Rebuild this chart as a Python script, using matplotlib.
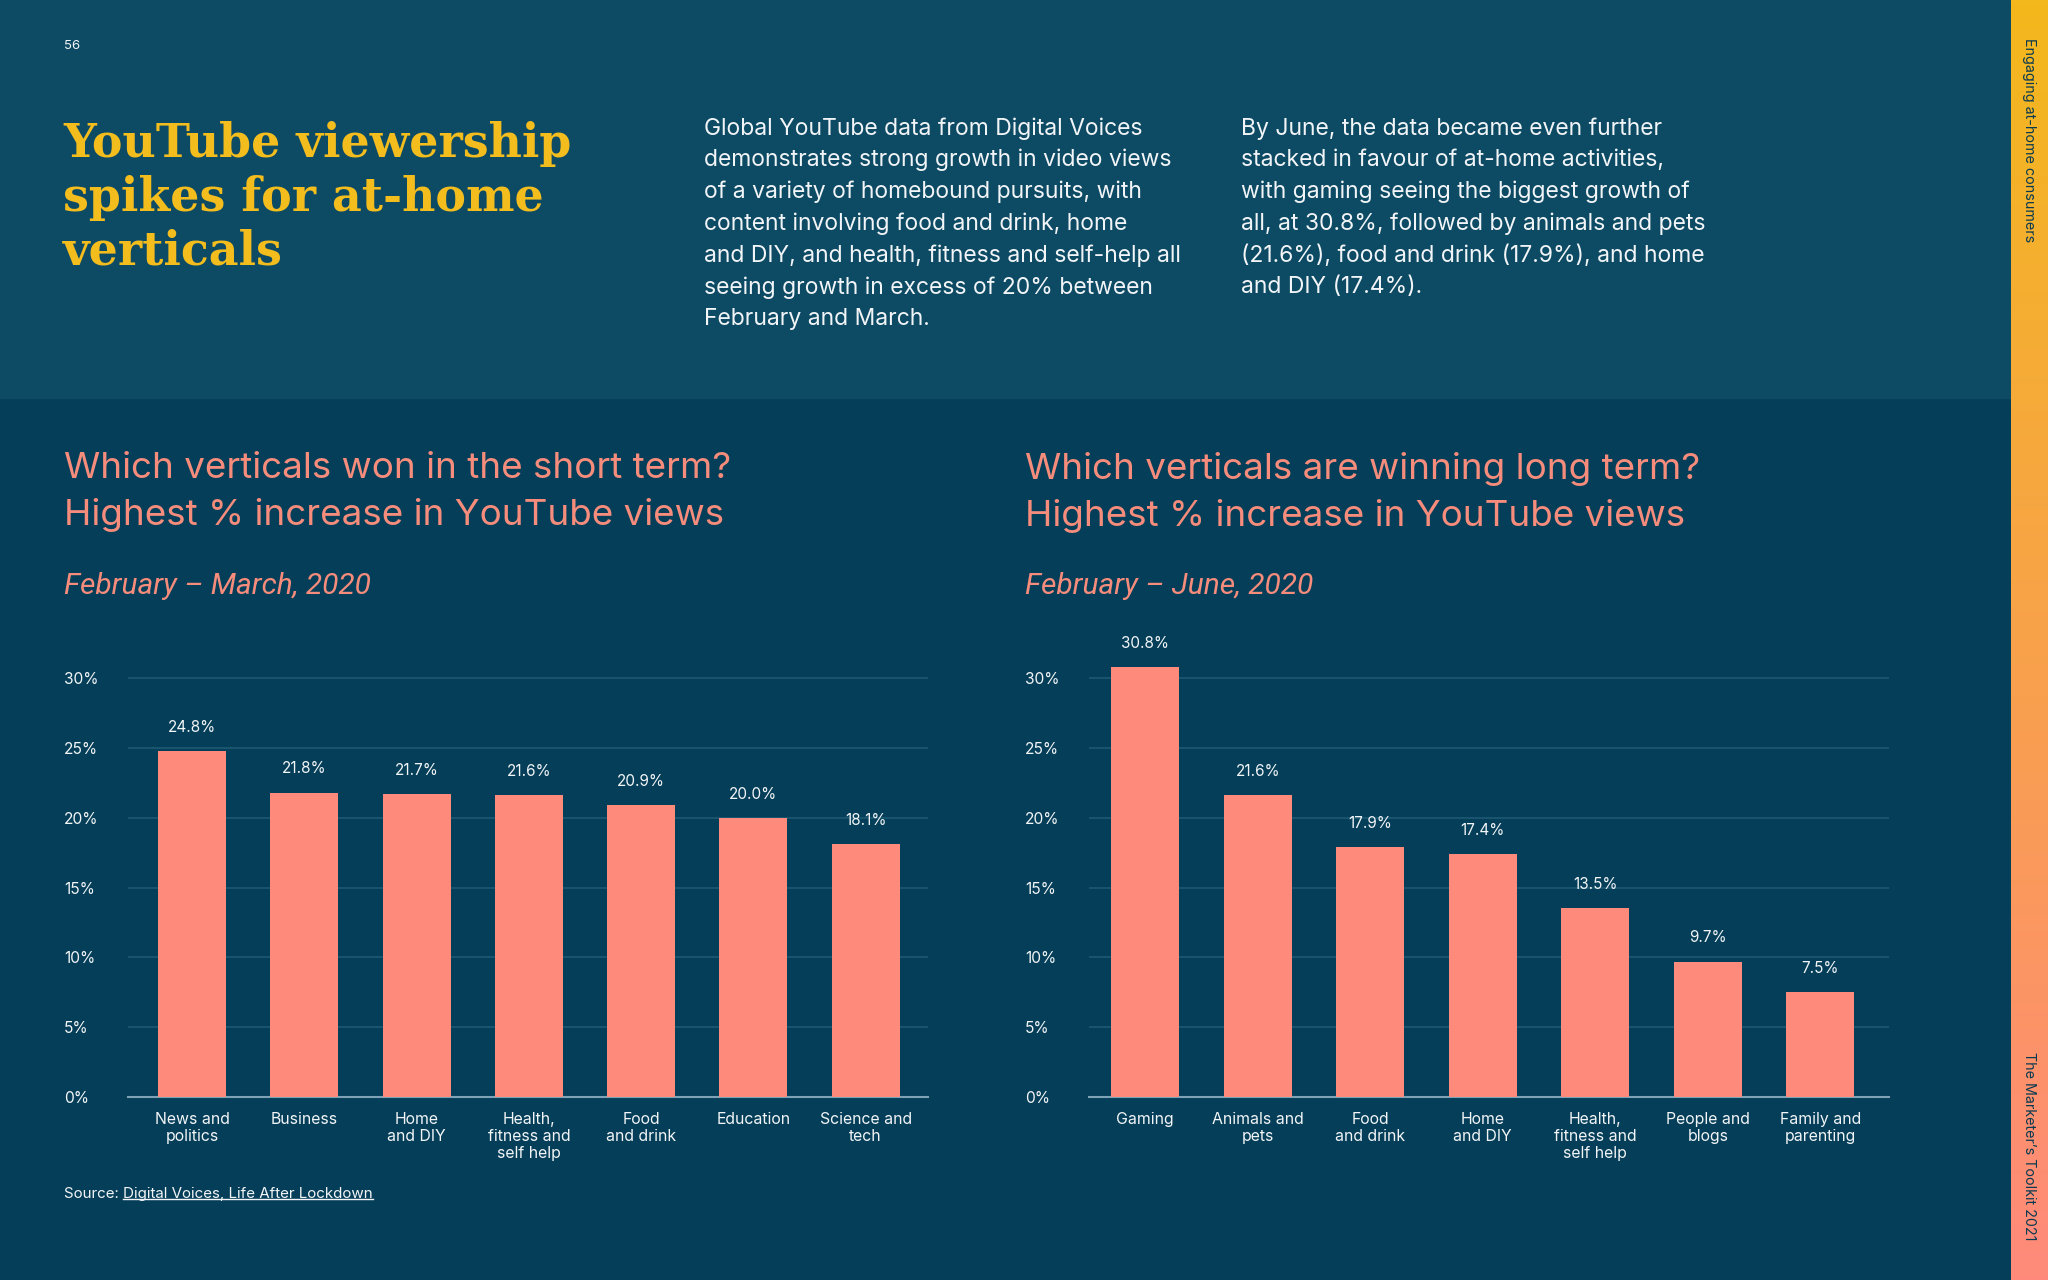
import numpy as np
import matplotlib
matplotlib.use("Agg")
import matplotlib.pyplot as plt
from matplotlib.patches import Rectangle
from matplotlib.lines import Line2D

# ---------------- data ----------------
short_categories = ["News and\npolitics", "Business", "Home\nand DIY",
                    "Health,\nfitness and\nself help", "Food\nand drink",
                    "Education", "Science and\ntech"]
short_values = [24.8, 21.8, 21.7, 21.6, 20.9, 20.0, 18.1]

long_categories = ["Gaming", "Animals and\npets", "Food\nand drink", "Home\nand DIY",
                   "Health,\nfitness and\nself help", "People and\nblogs",
                   "Family and\nparenting"]
long_values = [30.8, 21.6, 17.9, 17.4, 13.5, 9.7, 7.5]

y_ticks = [0, 5, 10, 15, 20, 25, 30]
y_tick_labels = ["0%", "5%", "10%", "15%", "20%", "25%", "30%"]

title_text = "YouTube viewership\nspikes for at-home\nverticals"
body_left = ("Global YouTube data from Digital Voices\n"
             "demonstrates strong growth in video views\n"
             "of a variety of homebound pursuits, with\n"
             "content involving food and drink, home\n"
             "and DIY, and health, fitness and self-help all\n"
             "seeing growth in excess of 20% between\n"
             "February and March.")
body_right = ("By June, the data became even further\n"
              "stacked in favour of at-home activities,\n"
              "with gaming seeing the biggest growth of\n"
              "all, at 30.8%, followed by animals and pets\n"
              "(21.6%), food and drink (17.9%), and home\n"
              "and DIY (17.4%).")
chart_titles = ["Which verticals won in the short term?\nHighest % increase in YouTube views",
                "Which verticals are winning long term?\nHighest % increase in YouTube views"]
chart_dates = ["February \u2013 March, 2020", "February \u2013 June, 2020"]

# ---------------- style ----------------
W, H = 2048, 1280
TOP_BG = "#0d4a64"
BOT_BG = "#053e58"
BAR = "#fd8a7b"
PINK = "#f58c7c"
YELLOW = "#f4bd1e"
WHITE = "#f2f5f7"
GRID = "#1c5772"
BASE = "#7ea3b6"
SANS = ["Inter", "DejaVu Sans"]

plt.rcParams["font.family"] = SANS

fig = plt.figure(figsize=(W / 100, H / 100), dpi=100)
fig.patch.set_facecolor(BOT_BG)

def fx(px):
    return px / W

def fy(py):
    return 1 - py / H

# background band (top)
fig.patches.append(Rectangle((0, fy(398)), fx(2011), 398 / H, transform=fig.transFigure,
                             color=TOP_BG, zorder=0))

# sidebar gradient
sax = fig.add_axes([fx(2011), 0, fx(W) - fx(2011), 1], zorder=5)
c_top = np.array(matplotlib.colors.to_rgb("#f3b81c"))
c_mid = np.array(matplotlib.colors.to_rgb("#f8a24a"))
c_bot = np.array(matplotlib.colors.to_rgb("#ff8a7b"))
t = np.linspace(0, 1, 256)[:, None]
grad = np.where(t < 0.5, c_top + (c_mid - c_top) * (t / 0.5),
                c_mid + (c_bot - c_mid) * ((t - 0.5) / 0.5))
sax.imshow(grad[:, None, :], aspect="auto", extent=[0, 1, 1, 0])
sax.set_axis_off()
fig.text(fx(2029), fy(38), "Engaging at-home consumers", rotation=270, ha="center", va="top",
         fontsize=10.3, color="#0a3a50", zorder=10)
fig.text(fx(2029), fy(1240), "The Marketer\u2019s Toolkit 2021", rotation=270, ha="center",
         va="bottom", fontsize=10.3, color="#0a3a50", zorder=10)

# page number
fig.text(fx(64), fy(46), "56", fontsize=9.5, color=WHITE, va="center", ha="left")

# title
fig.text(fx(63), fy(121), title_text, fontsize=33, color=YELLOW, va="top", ha="left",
         family="DejaVu Serif", fontweight="bold", linespacing=1.21)

# body text
fig.text(fx(704), fy(117), body_left, fontsize=16.5, color=WHITE, va="top", ha="left",
         linespacing=1.54)
fig.text(fx(1241), fy(117), body_right, fontsize=16.5, color=WHITE, va="top", ha="left",
         linespacing=1.54)

# ---------------- charts ----------------
def draw_chart(left_px, right_px, cats, vals, title, date, title_x, lpad, rpad):
    bottom_px, top_px = 1097, 1097 - 32 * (1097 - 678) / 30
    ax = fig.add_axes([fx(left_px), fy(bottom_px), (right_px - left_px) / W,
                       (bottom_px - top_px) / H])
    ax.set_facecolor("none")
    x = np.arange(len(cats))
    ax.bar(x, vals, width=0.605, color=BAR, zorder=3)
    ax.set_ylim(0, 32)
    ax.set_xlim(-lpad, len(cats) - 1 + rpad)
    ax.set_yticks(y_ticks)
    ax.set_yticklabels(y_tick_labels)
    for s in ["top", "right", "left"]:
        ax.spines[s].set_visible(False)
    ax.spines["bottom"].set_color(BASE)
    ax.spines["bottom"].set_linewidth(1.5)
    ax.grid(axis="y", color=GRID, linewidth=1.3, zorder=0)
    ax.grid(axis="x", visible=False)
    ax.tick_params(axis="y", length=0, pad=46, labelsize=11.2, labelcolor=WHITE)
    for lab in ax.get_yticklabels():
        lab.set_horizontalalignment("left")
    ax.set_xticks(x)
    ax.set_xticklabels(cats, fontsize=11.4, color=WHITE, linespacing=1.15, va="top")
    ax.tick_params(axis="x", length=0, pad=11)
    for xi, v in zip(x, vals):
        ax.annotate(f"{v:.1f}%", (xi, v), xytext=(0, 17), textcoords="offset points",
                    ha="center", va="center", fontsize=11, color=WHITE)
    fig.text(fx(title_x), fy(452), title, fontsize=26.5, color=PINK, ha="left", va="top",
             linespacing=1.48)
    fig.text(fx(title_x), fy(586), date, fontsize=21.5, color=PINK, ha="left", va="center",
             family=["Roboto", "DejaVu Sans"], style="italic")
    return ax

draw_chart(128, 928, short_categories, short_values, chart_titles[0], chart_dates[0], 64,
           0.57, 0.555)
draw_chart(1089, 1889, long_categories, long_values, chart_titles[1], chart_dates[1], 1025,
           0.5, 0.61)

# source with underlined link
t1 = fig.text(fx(64), fy(1194), "Source: ", fontsize=10.9, color=WHITE, ha="left", va="center")
fig.canvas.draw()
r = fig.canvas.get_renderer()
bb1 = t1.get_window_extent(r)
t2 = fig.text(bb1.x1 / W, fy(1194), "Digital Voices, Life After Lockdown", fontsize=10.9,
              color=WHITE, ha="left", va="center")
bb2 = t2.get_window_extent(r)
uy = (bb2.y0 + 2) / H
fig.lines.append(Line2D([bb2.x0 / W, bb2.x1 / W], [uy, uy], transform=fig.transFigure,
                        color=WHITE, linewidth=1.0))

fig.savefig("out.png", dpi=100, facecolor=fig.get_facecolor())
